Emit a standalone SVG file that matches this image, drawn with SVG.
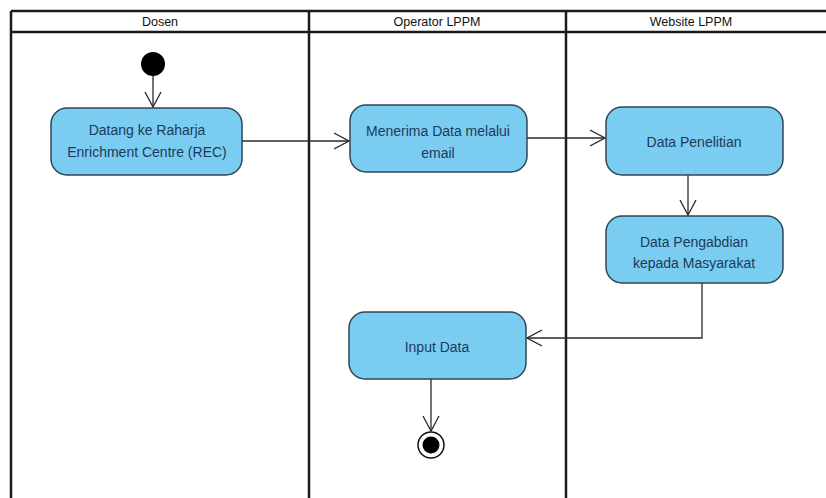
<svg xmlns="http://www.w3.org/2000/svg" width="826" height="498" viewBox="0 0 826 498">
<defs>
<style>
.lane{stroke:#1a1a1a;stroke-width:2.5;fill:none}
.hdr{font-family:"Liberation Sans",Arial,sans-serif;font-size:12.5px;fill:#111;text-anchor:middle}
.box{fill:#7accf0;stroke:#2e4656;stroke-width:1.5}
.lbl{font-family:"Liberation Sans",Arial,sans-serif;font-size:14px;fill:#1c3b5a;text-anchor:middle}
.conn{stroke:#2a2a2a;stroke-width:1.3;fill:none}
</style>
<marker id="open" viewBox="0 0 16 18" refX="15" refY="9" markerWidth="16" markerHeight="18" markerUnits="userSpaceOnUse" orient="auto">
<path d="M0,1 L15,9 L0,17" fill="none" stroke="#2a2a2a" stroke-width="1.3"/>
</marker>
</defs>
<rect width="826" height="498" fill="#ffffff"/>
<g id="lanes">
<line class="lane" x1="11" y1="11" x2="826" y2="11"/>
<line class="lane" x1="11" y1="32" x2="826" y2="32"/>
<line class="lane" x1="11" y1="11" x2="11" y2="498"/>
<line class="lane" x1="309" y1="11" x2="309" y2="498"/>
<line class="lane" x1="566" y1="11" x2="566" y2="498"/>
<text class="hdr" x="160" y="26">Dosen</text>
<text class="hdr" x="437" y="26">Operator LPPM</text>
<text class="hdr" x="691" y="26">Website LPPM</text>
</g>
<g id="connectors">
<line class="conn" x1="153" y1="76" x2="153" y2="107" marker-end="url(#open)"/>
<line class="conn" x1="242" y1="141" x2="349" y2="141" marker-end="url(#open)"/>
<line class="conn" x1="527" y1="138" x2="605" y2="138" marker-end="url(#open)"/>
<line class="conn" x1="688" y1="175" x2="688" y2="215" marker-end="url(#open)"/>
<polyline class="conn" points="702,283 702,338 527,338" marker-end="url(#open)"/>
<line class="conn" x1="431" y1="379" x2="431" y2="431" marker-end="url(#open)"/>
</g>
<g id="start">
<circle cx="153" cy="64" r="12" fill="#000"/>
</g>
<g id="n1">
<rect class="box" x="51" y="108" width="191" height="67" rx="16"/>
<text class="lbl" x="147" y="135">Datang ke Raharja</text>
<text class="lbl" x="147" y="157">Enrichment Centre (REC)</text>
</g>
<g id="n2">
<rect class="box" x="350" y="105" width="177" height="67" rx="16"/>
<text class="lbl" x="438" y="136">Menerima Data melalui</text>
<text class="lbl" x="438" y="158">email</text>
</g>
<g id="n3">
<rect class="box" x="606" y="107" width="177" height="68" rx="16"/>
<text class="lbl" x="694" y="147">Data Penelitian</text>
</g>
<g id="n4">
<rect class="box" x="606" y="216" width="177" height="67" rx="16"/>
<text class="lbl" x="694" y="247">Data Pengabdian</text>
<text class="lbl" x="694" y="268">kepada Masyarakat</text>
</g>
<g id="n5">
<rect class="box" x="349" y="312" width="177" height="67" rx="16"/>
<text class="lbl" x="437" y="352">Input Data</text>
</g>
<g id="end">
<circle cx="431" cy="445" r="13" fill="#fff" stroke="#111" stroke-width="1.5"/>
<circle cx="431" cy="445" r="8.5" fill="#000"/>
</g>
</svg>
